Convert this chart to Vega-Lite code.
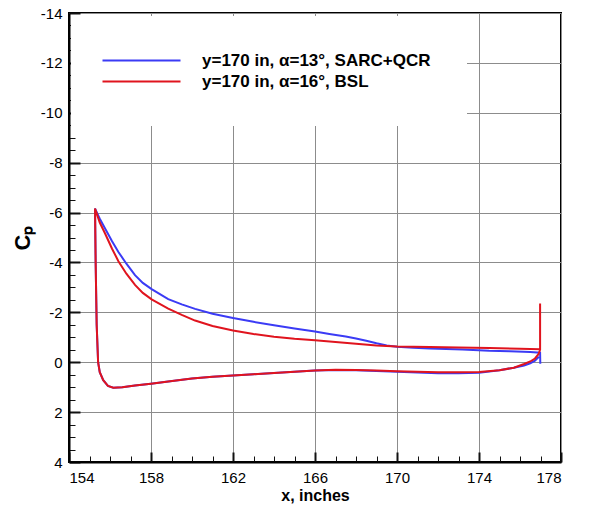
{
  "$schema": "https://vega.github.io/schema/vega-lite/v6.json",
  "width": 492,
  "height": 449,
  "autosize": {"type": "none"},
  "padding": {"left": 69, "top": 13, "right": 28, "bottom": 48},
  "background": "white",
  "config": {
    "view": {"stroke": "black", "strokeWidth": 2},
    "font": "Liberation Sans",
    "locale": {"number": {"decimal": ".", "thousands": ",", "grouping": [3], "currency": ["$", ""], "minus": "-"}}
  },
  "data": {
    "values": [
      {"s": "y=170 in, α=13°, SARC+QCR", "i": 0, "x": 176.99, "cp": 0.06},
      {"s": "y=170 in, α=13°, SARC+QCR", "i": 1, "x": 176.98, "cp": -0.38},
      {"s": "y=170 in, α=13°, SARC+QCR", "i": 2, "x": 176.5, "cp": -0.41},
      {"s": "y=170 in, α=13°, SARC+QCR", "i": 3, "x": 175.5, "cp": -0.44},
      {"s": "y=170 in, α=13°, SARC+QCR", "i": 4, "x": 174.5, "cp": -0.46},
      {"s": "y=170 in, α=13°, SARC+QCR", "i": 5, "x": 173.2, "cp": -0.51},
      {"s": "y=170 in, α=13°, SARC+QCR", "i": 6, "x": 172.4, "cp": -0.53},
      {"s": "y=170 in, α=13°, SARC+QCR", "i": 7, "x": 171.6, "cp": -0.55},
      {"s": "y=170 in, α=13°, SARC+QCR", "i": 8, "x": 170.8, "cp": -0.58},
      {"s": "y=170 in, α=13°, SARC+QCR", "i": 9, "x": 170.0, "cp": -0.62},
      {"s": "y=170 in, α=13°, SARC+QCR", "i": 10, "x": 169.5, "cp": -0.67},
      {"s": "y=170 in, α=13°, SARC+QCR", "i": 11, "x": 169.0, "cp": -0.76},
      {"s": "y=170 in, α=13°, SARC+QCR", "i": 12, "x": 168.5, "cp": -0.86},
      {"s": "y=170 in, α=13°, SARC+QCR", "i": 13, "x": 168.0, "cp": -0.95},
      {"s": "y=170 in, α=13°, SARC+QCR", "i": 14, "x": 167.5, "cp": -1.03},
      {"s": "y=170 in, α=13°, SARC+QCR", "i": 15, "x": 166.7, "cp": -1.13},
      {"s": "y=170 in, α=13°, SARC+QCR", "i": 16, "x": 166.0, "cp": -1.23},
      {"s": "y=170 in, α=13°, SARC+QCR", "i": 17, "x": 165.0, "cp": -1.35},
      {"s": "y=170 in, α=13°, SARC+QCR", "i": 18, "x": 164.0, "cp": -1.48},
      {"s": "y=170 in, α=13°, SARC+QCR", "i": 19, "x": 163.0, "cp": -1.62},
      {"s": "y=170 in, α=13°, SARC+QCR", "i": 20, "x": 162.0, "cp": -1.77},
      {"s": "y=170 in, α=13°, SARC+QCR", "i": 21, "x": 161.0, "cp": -1.94},
      {"s": "y=170 in, α=13°, SARC+QCR", "i": 22, "x": 160.15, "cp": -2.14},
      {"s": "y=170 in, α=13°, SARC+QCR", "i": 23, "x": 159.5, "cp": -2.32},
      {"s": "y=170 in, α=13°, SARC+QCR", "i": 24, "x": 158.84, "cp": -2.53},
      {"s": "y=170 in, α=13°, SARC+QCR", "i": 25, "x": 158.03, "cp": -2.93},
      {"s": "y=170 in, α=13°, SARC+QCR", "i": 26, "x": 157.6, "cp": -3.18},
      {"s": "y=170 in, α=13°, SARC+QCR", "i": 27, "x": 157.22, "cp": -3.49},
      {"s": "y=170 in, α=13°, SARC+QCR", "i": 28, "x": 156.8, "cp": -3.95},
      {"s": "y=170 in, α=13°, SARC+QCR", "i": 29, "x": 156.41, "cp": -4.42},
      {"s": "y=170 in, α=13°, SARC+QCR", "i": 30, "x": 156.1, "cp": -4.85},
      {"s": "y=170 in, α=13°, SARC+QCR", "i": 31, "x": 155.76, "cp": -5.36},
      {"s": "y=170 in, α=13°, SARC+QCR", "i": 32, "x": 155.5, "cp": -5.75},
      {"s": "y=170 in, α=13°, SARC+QCR", "i": 33, "x": 155.27, "cp": -6.16},
      {"s": "y=170 in, α=13°, SARC+QCR", "i": 34, "x": 155.3, "cp": -4.0},
      {"s": "y=170 in, α=13°, SARC+QCR", "i": 35, "x": 155.35, "cp": -1.5},
      {"s": "y=170 in, α=13°, SARC+QCR", "i": 36, "x": 155.42, "cp": 0.0},
      {"s": "y=170 in, α=13°, SARC+QCR", "i": 37, "x": 155.5, "cp": 0.4},
      {"s": "y=170 in, α=13°, SARC+QCR", "i": 38, "x": 155.67, "cp": 0.72},
      {"s": "y=170 in, α=13°, SARC+QCR", "i": 39, "x": 155.9, "cp": 0.95},
      {"s": "y=170 in, α=13°, SARC+QCR", "i": 40, "x": 156.16, "cp": 1.02},
      {"s": "y=170 in, α=13°, SARC+QCR", "i": 41, "x": 156.6, "cp": 1.0},
      {"s": "y=170 in, α=13°, SARC+QCR", "i": 42, "x": 157.22, "cp": 0.93},
      {"s": "y=170 in, α=13°, SARC+QCR", "i": 43, "x": 158.0, "cp": 0.86},
      {"s": "y=170 in, α=13°, SARC+QCR", "i": 44, "x": 158.84, "cp": 0.77},
      {"s": "y=170 in, α=13°, SARC+QCR", "i": 45, "x": 160.0, "cp": 0.65},
      {"s": "y=170 in, α=13°, SARC+QCR", "i": 46, "x": 161.0, "cp": 0.58},
      {"s": "y=170 in, α=13°, SARC+QCR", "i": 47, "x": 162.0, "cp": 0.53},
      {"s": "y=170 in, α=13°, SARC+QCR", "i": 48, "x": 163.0, "cp": 0.48},
      {"s": "y=170 in, α=13°, SARC+QCR", "i": 49, "x": 164.0, "cp": 0.43},
      {"s": "y=170 in, α=13°, SARC+QCR", "i": 50, "x": 165.0, "cp": 0.38},
      {"s": "y=170 in, α=13°, SARC+QCR", "i": 51, "x": 166.0, "cp": 0.33},
      {"s": "y=170 in, α=13°, SARC+QCR", "i": 52, "x": 167.0, "cp": 0.31},
      {"s": "y=170 in, α=13°, SARC+QCR", "i": 53, "x": 168.0, "cp": 0.32},
      {"s": "y=170 in, α=13°, SARC+QCR", "i": 54, "x": 169.0, "cp": 0.35},
      {"s": "y=170 in, α=13°, SARC+QCR", "i": 55, "x": 170.0, "cp": 0.38},
      {"s": "y=170 in, α=13°, SARC+QCR", "i": 56, "x": 171.0, "cp": 0.41},
      {"s": "y=170 in, α=13°, SARC+QCR", "i": 57, "x": 172.0, "cp": 0.44},
      {"s": "y=170 in, α=13°, SARC+QCR", "i": 58, "x": 173.0, "cp": 0.44},
      {"s": "y=170 in, α=13°, SARC+QCR", "i": 59, "x": 174.0, "cp": 0.42},
      {"s": "y=170 in, α=13°, SARC+QCR", "i": 60, "x": 175.0, "cp": 0.32},
      {"s": "y=170 in, α=13°, SARC+QCR", "i": 61, "x": 175.7, "cp": 0.22},
      {"s": "y=170 in, α=13°, SARC+QCR", "i": 62, "x": 176.2, "cp": 0.13},
      {"s": "y=170 in, α=13°, SARC+QCR", "i": 63, "x": 176.5, "cp": 0.04},
      {"s": "y=170 in, α=13°, SARC+QCR", "i": 64, "x": 176.73, "cp": -0.06},
      {"s": "y=170 in, α=13°, SARC+QCR", "i": 65, "x": 176.92, "cp": -0.22},
      {"s": "y=170 in, α=16°, BSL", "i": 0, "x": 176.98, "cp": -2.35},
      {"s": "y=170 in, α=16°, BSL", "i": 1, "x": 176.98, "cp": -0.52},
      {"s": "y=170 in, α=16°, BSL", "i": 2, "x": 176.0, "cp": -0.54},
      {"s": "y=170 in, α=16°, BSL", "i": 3, "x": 174.5, "cp": -0.57},
      {"s": "y=170 in, α=16°, BSL", "i": 4, "x": 173.0, "cp": -0.59},
      {"s": "y=170 in, α=16°, BSL", "i": 5, "x": 171.6, "cp": -0.61},
      {"s": "y=170 in, α=16°, BSL", "i": 6, "x": 170.0, "cp": -0.63},
      {"s": "y=170 in, α=16°, BSL", "i": 7, "x": 169.0, "cp": -0.67},
      {"s": "y=170 in, α=16°, BSL", "i": 8, "x": 168.0, "cp": -0.74},
      {"s": "y=170 in, α=16°, BSL", "i": 9, "x": 167.0, "cp": -0.81},
      {"s": "y=170 in, α=16°, BSL", "i": 10, "x": 166.0, "cp": -0.88},
      {"s": "y=170 in, α=16°, BSL", "i": 11, "x": 165.0, "cp": -0.94},
      {"s": "y=170 in, α=16°, BSL", "i": 12, "x": 164.0, "cp": -1.02},
      {"s": "y=170 in, α=16°, BSL", "i": 13, "x": 163.0, "cp": -1.13},
      {"s": "y=170 in, α=16°, BSL", "i": 14, "x": 162.0, "cp": -1.27},
      {"s": "y=170 in, α=16°, BSL", "i": 15, "x": 161.0, "cp": -1.45},
      {"s": "y=170 in, α=16°, BSL", "i": 16, "x": 160.15, "cp": -1.67},
      {"s": "y=170 in, α=16°, BSL", "i": 17, "x": 159.5, "cp": -1.9},
      {"s": "y=170 in, α=16°, BSL", "i": 18, "x": 158.84, "cp": -2.15},
      {"s": "y=170 in, α=16°, BSL", "i": 19, "x": 158.03, "cp": -2.52},
      {"s": "y=170 in, α=16°, BSL", "i": 20, "x": 157.6, "cp": -2.78},
      {"s": "y=170 in, α=16°, BSL", "i": 21, "x": 157.22, "cp": -3.1},
      {"s": "y=170 in, α=16°, BSL", "i": 22, "x": 156.8, "cp": -3.55},
      {"s": "y=170 in, α=16°, BSL", "i": 23, "x": 156.41, "cp": -4.05},
      {"s": "y=170 in, α=16°, BSL", "i": 24, "x": 156.1, "cp": -4.55},
      {"s": "y=170 in, α=16°, BSL", "i": 25, "x": 155.76, "cp": -5.16},
      {"s": "y=170 in, α=16°, BSL", "i": 26, "x": 155.5, "cp": -5.6},
      {"s": "y=170 in, α=16°, BSL", "i": 27, "x": 155.27, "cp": -6.16},
      {"s": "y=170 in, α=16°, BSL", "i": 28, "x": 155.3, "cp": -4.0},
      {"s": "y=170 in, α=16°, BSL", "i": 29, "x": 155.35, "cp": -1.5},
      {"s": "y=170 in, α=16°, BSL", "i": 30, "x": 155.42, "cp": 0.0},
      {"s": "y=170 in, α=16°, BSL", "i": 31, "x": 155.5, "cp": 0.4},
      {"s": "y=170 in, α=16°, BSL", "i": 32, "x": 155.67, "cp": 0.72},
      {"s": "y=170 in, α=16°, BSL", "i": 33, "x": 155.9, "cp": 0.95},
      {"s": "y=170 in, α=16°, BSL", "i": 34, "x": 156.16, "cp": 1.02},
      {"s": "y=170 in, α=16°, BSL", "i": 35, "x": 156.6, "cp": 1.0},
      {"s": "y=170 in, α=16°, BSL", "i": 36, "x": 157.22, "cp": 0.93},
      {"s": "y=170 in, α=16°, BSL", "i": 37, "x": 158.0, "cp": 0.86},
      {"s": "y=170 in, α=16°, BSL", "i": 38, "x": 158.84, "cp": 0.77},
      {"s": "y=170 in, α=16°, BSL", "i": 39, "x": 160.0, "cp": 0.65},
      {"s": "y=170 in, α=16°, BSL", "i": 40, "x": 161.0, "cp": 0.58},
      {"s": "y=170 in, α=16°, BSL", "i": 41, "x": 162.0, "cp": 0.53},
      {"s": "y=170 in, α=16°, BSL", "i": 42, "x": 163.0, "cp": 0.48},
      {"s": "y=170 in, α=16°, BSL", "i": 43, "x": 164.0, "cp": 0.43},
      {"s": "y=170 in, α=16°, BSL", "i": 44, "x": 165.0, "cp": 0.38},
      {"s": "y=170 in, α=16°, BSL", "i": 45, "x": 166.0, "cp": 0.33},
      {"s": "y=170 in, α=16°, BSL", "i": 46, "x": 167.0, "cp": 0.3},
      {"s": "y=170 in, α=16°, BSL", "i": 47, "x": 168.0, "cp": 0.31},
      {"s": "y=170 in, α=16°, BSL", "i": 48, "x": 169.0, "cp": 0.33},
      {"s": "y=170 in, α=16°, BSL", "i": 49, "x": 170.0, "cp": 0.36},
      {"s": "y=170 in, α=16°, BSL", "i": 50, "x": 171.0, "cp": 0.38},
      {"s": "y=170 in, α=16°, BSL", "i": 51, "x": 172.0, "cp": 0.4},
      {"s": "y=170 in, α=16°, BSL", "i": 52, "x": 173.0, "cp": 0.4},
      {"s": "y=170 in, α=16°, BSL", "i": 53, "x": 174.0, "cp": 0.39},
      {"s": "y=170 in, α=16°, BSL", "i": 54, "x": 175.0, "cp": 0.32},
      {"s": "y=170 in, α=16°, BSL", "i": 55, "x": 175.7, "cp": 0.22},
      {"s": "y=170 in, α=16°, BSL", "i": 56, "x": 176.2, "cp": 0.07},
      {"s": "y=170 in, α=16°, BSL", "i": 57, "x": 176.5, "cp": -0.03},
      {"s": "y=170 in, α=16°, BSL", "i": 58, "x": 176.73, "cp": -0.15},
      {"s": "y=170 in, α=16°, BSL", "i": 59, "x": 176.9, "cp": -0.32},
      {"s": "y=170 in, α=16°, BSL", "i": 60, "x": 176.98, "cp": -0.5}
    ]
  },
  "layer": [
    {
      "mark": {"type": "line", "strokeWidth": 2},
      "encoding": {
        "x": {
          "field": "x", "type": "quantitative",
          "scale": {"domain": [154, 178], "nice": false, "zero": false},
          "axis": {
            "orient": "bottom",
            "values": [154, 158, 162, 166, 170, 174, 178],
            "format": "d",
            "grid": true, "gridColor": "#8c8c8c",
            "domainColor": "black", "domainWidth": 2,
            "ticks": false,
            "labelPadding": 8, "labelFontSize": 15, "labelColor": "black",
            "title": "x, inches", "titleFontSize": 16, "titleFontWeight": "bold", "titleColor": "black",
            "titlePadding": 2
          }
        },
        "y": {
          "field": "cp", "type": "quantitative",
          "scale": {"domain": [-14, 4], "reverse": true, "nice": false, "zero": false},
          "axis": {
            "orient": "left",
            "values": [-14, -12, -10, -8, -6, -4, -2, 0, 2, 4],
            "format": "d",
            "grid": true, "gridColor": "#8c8c8c",
            "domainColor": "black", "domainWidth": 2,
            "ticks": false,
            "labelPadding": 7, "labelFontSize": 15, "labelColor": "black",
            "title": "Cₚ", "titleFontSize": 22, "titleFontWeight": "bold", "titleColor": "black",
            "titlePadding": 6
          }
        },
        "color": {
          "field": "s", "type": "nominal",
          "scale": {"domain": ["y=170 in, α=13°, SARC+QCR", "y=170 in, α=16°, BSL"], "range": ["#3b3bf5", "#e0141e"]},
          "legend": {
            "title": null, "orient": "none", "legendX": 2, "legendY": 3,
            "fillColor": "white", "padding": 36,
            "symbolType": "M-2.6,0H13", "symbolSize": 100, "symbolStrokeWidth": 2,
            "labelFontSize": 17, "labelFontWeight": "bold", "labelColor": "black",
            "labelOffset": 78, "rowPadding": 3, "labelLimit": 500
          }
        },
        "order": {"field": "i", "type": "quantitative"}
      }
    },
    {
      "mark": {"type": "line", "opacity": 0},
      "encoding": {
        "x": {
          "field": "x", "type": "quantitative",
          "axis": {
            "orient": "bottom",
            "values": [154, 158, 162, 166, 170, 174, 178],
            "grid": true, "gridColor": "#111111", "gridWidth": 2, "gridDash": [10, 2000],
            "domain": false, "labels": false, "ticks": false, "title": null
          }
        },
        "y": {
          "field": "cp", "type": "quantitative",
          "axis": {
            "orient": "left",
            "values": [-14, -12, -10, -8, -6, -4, -2, 0, 2, 4],
            "grid": true, "gridColor": "#111111", "gridWidth": 2, "gridDash": [11, 2000],
            "domain": false, "labels": false, "ticks": false, "title": null
          }
        }
      }
    },
    {
      "mark": {"type": "line", "opacity": 0},
      "encoding": {
        "x": {
          "field": "x", "type": "quantitative",
          "axis": {
            "orient": "bottom",
            "values": [155, 156, 157, 159, 160, 161, 163, 164, 165, 167, 168, 169, 171, 172, 173, 175, 176, 177],
            "grid": true, "gridColor": "#111111", "gridWidth": 1, "gridDash": [6, 2000],
            "domain": false, "labels": false, "ticks": false, "title": null
          }
        },
        "y": {
          "field": "cp", "type": "quantitative",
          "axis": {
            "orient": "left",
            "values": [-13.5, -13, -12.5, -11.5, -11, -10.5, -9.5, -9, -8.5, -7.5, -7, -6.5, -5.5, -5, -4.5, -3.5, -3, -2.5, -1.5, -1, -0.5, 0.5, 1, 1.5, 2.5, 3, 3.5],
            "grid": true, "gridColor": "#111111", "gridWidth": 1, "gridDash": [6, 2000],
            "domain": false, "labels": false, "ticks": false, "title": null
          }
        }
      }
    }
  ],
  "resolve": {"axis": {"x": "independent", "y": "independent"}}
}
